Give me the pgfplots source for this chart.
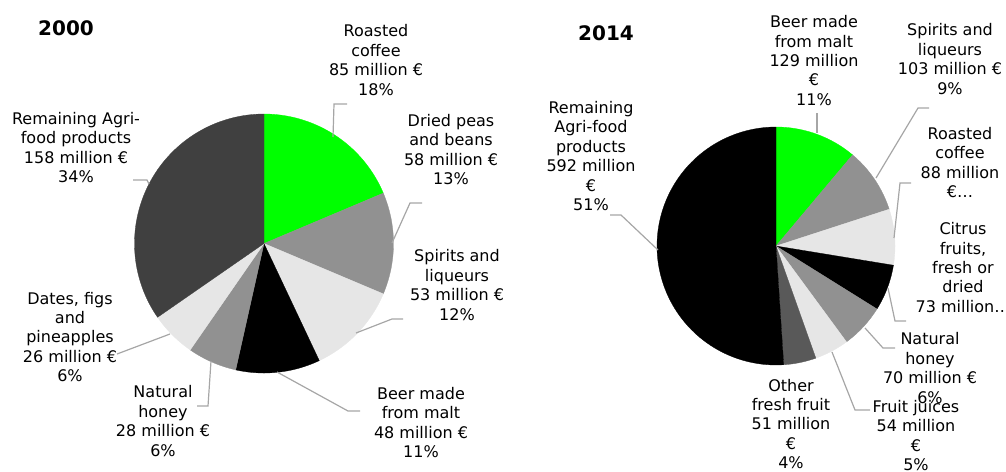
\documentclass[border=0pt]{standalone}
\usepackage{fontspec}
\setmainfont{DejaVu Sans}
\usepackage{pgfplots}
\pgfplotsset{compat=1.18}
\definecolor{pgreen}{RGB}{0,255,0}
\definecolor{pmid}{RGB}{145,145,145}
\definecolor{plight}{RGB}{230,230,230}
\definecolor{pdark}{RGB}{64,64,64}
\definecolor{pdarkb}{RGB}{89,89,89}
\definecolor{pblack}{RGB}{0,0,0}
\definecolor{leader}{RGB}{166,166,166}
% values (million EUR) / slice colour, clockwise from 12 o'clock
\def\pieA{85/pgreen, 58/pmid, 53/plight, 48/pblack, 28/pmid, 26/plight, 158/pdark}
\def\pieB{129/pgreen, 103/pmid, 88/plight, 73/pblack, 70/pmid, 54/plight, 51/pdarkb, 592/pblack}
\newcommand\drawpie[4]{%
  \gdef\pietotal{0}%
  \foreach \v/\c in #4 {\pgfmathparse{\pietotal+\v}\xdef\pietotal{\pgfmathresult}}%
  \gdef\piecum{0}%
  \foreach \v/\c in #4 {%
    \pgfmathsetmacro\aS{90-360*(\piecum/\pietotal)}%
    \pgfmathparse{\piecum+\v}\xdef\piecum{\pgfmathresult}%
    \pgfmathsetmacro\aE{90-360*(\piecum/\pietotal)}%
    \edef\tmp{\noexpand\addplot[fill=\c, draw=\c, line width=0.3pt, domain=\aE:\aS, samples=90] ({#1+#3*cos(x)}, {#2-#3*sin(x)}) -- (axis cs:#1,#2) -- cycle;}%
    \tmp
  }%
}
\tikzset{lbl/.style={font=\fontsize{16bp}{19.4bp}\selectfont, align=center, inner sep=0pt, text=black},
  ttl/.style={font=\fontsize{20bp}{24bp}\selectfont\bfseries, inner sep=0pt, text=black}}
\begin{document}
\begin{tikzpicture}
\begin{axis}[name=ax, width=1006bp, height=471bp, scale only axis, xmin=0, xmax=1006, ymin=0, ymax=471,
  y dir=reverse, hide axis, clip=false]
\drawpie{264}{243.5}{129.5}{\pieA}
\drawpie{776}{246}{119}{\pieB}
% leader lines 2000
\addplot[leader, line width=1.2bp] coordinates {(347,104) (334,104) (333,137)};
\addplot[leader, line width=1.2bp] coordinates {(422,203) (410,203) (392,243)};
\addplot[leader, line width=1.2bp] coordinates {(403,319) (392,319) (356,333)};
\addplot[leader, line width=1.2bp] coordinates {(360,411) (348,411) (277,372)};
\addplot[leader, line width=1.2bp] coordinates {(197,406) (208,406) (211,361)};
\addplot[leader, line width=1.2bp] coordinates {(117,354) (170,334)};
\addplot[leader, line width=1.2bp] coordinates {(133,180) (147,180) (149,184)};
% leader lines 2014
\addplot[leader, line width=1.2bp] coordinates {(817,113) (817,133)};
\addplot[leader, line width=1.2bp] coordinates {(929,108) (918,108) (876,178)};
\addplot[leader, line width=1.2bp] coordinates {(911,183) (900,183) (894,238)};
\addplot[leader, line width=1.2bp] coordinates {(906,321) (895,321) (888,288)};
\addplot[leader, line width=1.2bp] coordinates {(895,348) (883,348) (865,328)};
\addplot[leader, line width=1.2bp] coordinates {(870,410) (855,410) (832,352)};
\addplot[leader, line width=1.2bp] coordinates {(610,215) (621,215) (658,250)};
% titles
\node[ttl] at (axis cs:66,28.5) {2000};
\node[ttl] at (axis cs:606,33.5) {2014};
% labels 2000
\node[lbl] at (axis cs:376,60) {Roasted\\coffee\\85 million €\\18\%};
\node[lbl] at (axis cs:451,149.5) {Dried peas\\and beans\\58 million €\\13\%};
\node[lbl] at (axis cs:457,285) {Spirits and\\liqueurs\\53 million €\\12\%};
\node[lbl] at (axis cs:421,422.5) {Beer made\\from malt\\48 million €\\11\%};
\node[lbl] at (axis cs:163,421) {Natural\\honey\\28 million €\\6\%};
\node[lbl] at (axis cs:70,337) {Dates, figs\\and\\pineapples\\26 million €\\6\%};
\node[lbl] at (axis cs:76,147.5) {Remaining Agri-\\food products\\158 million €\\34\%};
% labels 2014
\node[lbl] at (axis cs:814,60.5) {Beer made\\from malt\\129 million\\€\\11\%};
\node[lbl] at (axis cs:950,59) {Spirits and\\liqueurs\\103 million €\\9\%};
\node[lbl] at (axis cs:960,162.5) {Roasted\\coffee\\88 million\\€…};
\node[lbl] at (axis cs:963,267.5) {Citrus\\fruits,\\fresh or\\dried\\73 million…};
\node[lbl] at (axis cs:930,368) {Natural\\honey\\70 million €\\6\%};
\node[lbl] at (axis cs:916,435.5) {Fruit juices\\54 million\\€\\5\%};
\node[lbl] at (axis cs:791,424) {Other\\fresh fruit\\51 million\\€\\4\%};
\node[lbl] at (axis cs:591,156) {Remaining\\Agri-food\\products\\592 million\\€\\51\%};
\end{axis}
\pgfresetboundingbox
\path (ax.south west) rectangle (ax.north east);
\end{tikzpicture}
\end{document}
